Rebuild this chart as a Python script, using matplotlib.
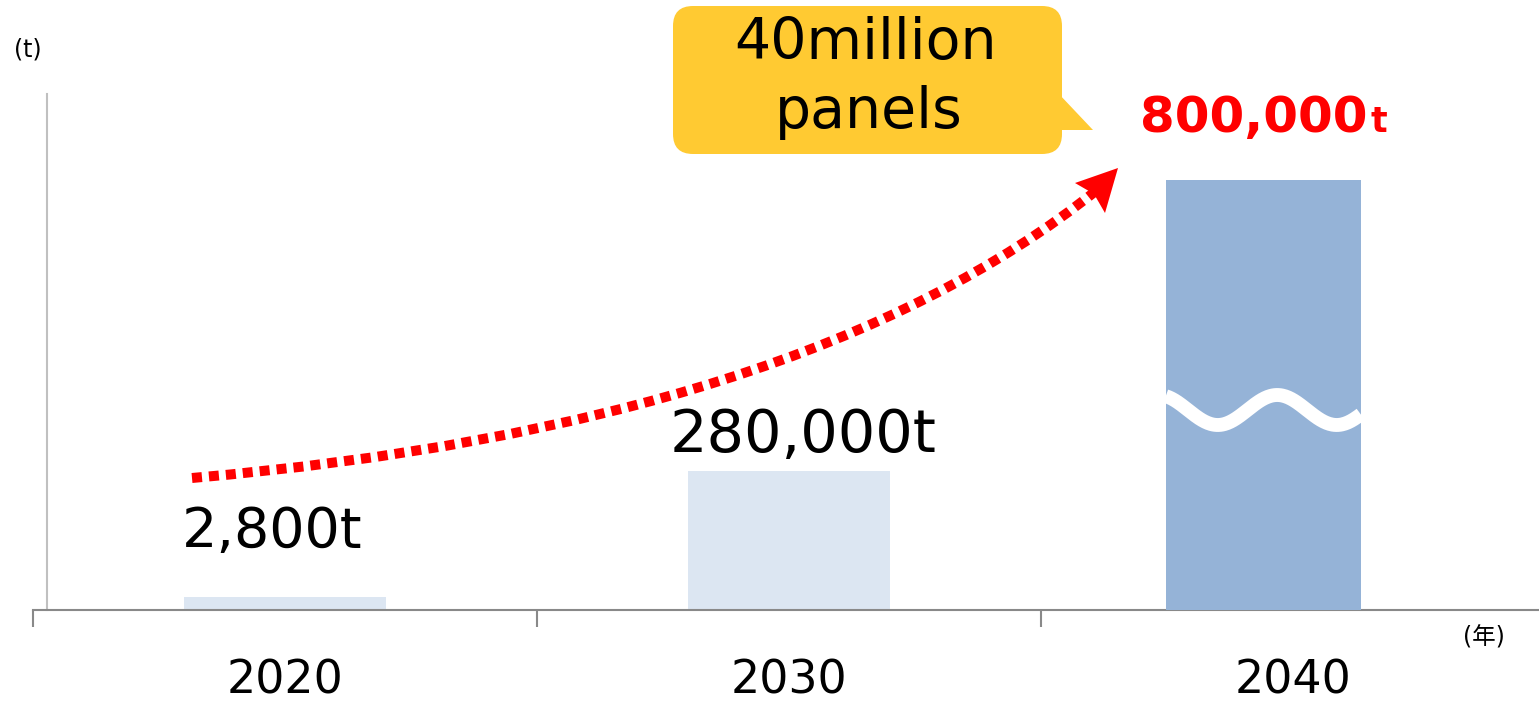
import numpy as np
import matplotlib.pyplot as plt
from matplotlib.patches import FancyBboxPatch, Polygon, PathPatch
from matplotlib.path import Path

plt.rcParams['font.family'] = ['DejaVu Sans', 'Noto Sans CJK JP']

years = ['2020', '2030', '2040']
tonnes = ['2,800t', '280,000t', '800,000']
# drawn heights of the bars; the chart is not to scale (2040 bar is broken)
bar_heights = [13, 139, 430]
callout = ['40million', 'panels']
unit_y = '(t)'
unit_x = '(年)'

W, H = 1539, 704
fig = plt.figure(figsize=(W / 100, H / 100), dpi=100)

# main axes: one category = 504 px, y unit = 1 px
ax = fig.add_axes([33 / W, 94 / H, 1512 / W, 516 / H])
ax.set_xlim(-0.5, 2.5)
ax.set_ylim(0, 516)

x = np.arange(len(years), dtype=float)
x[2] -= 0.059
widths = [0.4, 0.4, 0.387]
colors = ['#dce6f2', '#dce6f2', '#95b3d7']
bars = ax.bar(x, bar_heights, width=widths, color=colors, zorder=1)
bars[2].set_zorder(3)

# white wavy break mark on the 2040 bar
b = bars[2]
wx = np.linspace(b.get_x(), b.get_x() + b.get_width(), 200)
trough = b.get_x() + 52 / 504
wy = 200 - 15 * np.cos(2 * np.pi * (wx - trough) / 0.236)
wave, = ax.plot(wx, wy, color='white', lw=10, solid_capstyle='butt', zorder=4)
wave.set_clip_path(b)

for s in ['top', 'right']:
    ax.spines[s].set_visible(False)
ax.spines['bottom'].set_color('#898989')
ax.spines['bottom'].set_linewidth(1.5)
ax.spines['left'].set_position(('data', -0.472))
ax.spines['left'].set_color('#c0c0c0')
ax.spines['left'].set_linewidth(1.5)
ax.set_yticks([])
ax.set_xticks([-0.5, 0.5, 1.5, 2.5], labels=['', '', '', ''])
ax.tick_params(axis='x', length=12, width=1.5, color='#898989', direction='out')

# value labels
offsets = [(-13, 50), (14, 19)]
sizes = [40, 42.5]
for i in range(2):
    ax.annotate(tonnes[i], xy=(x[i], bar_heights[i]), xytext=offsets[i],
                textcoords='offset pixels', ha='center', va='baseline',
                fontsize=sizes[i], annotation_clip=False)
ax.annotate(tonnes[2], xy=(x[2], bar_heights[2]), xytext=(104, 48),
            textcoords='offset pixels', ha='right', va='baseline',
            fontsize=36, fontweight='bold', color='#ff0000', annotation_clip=False)
ax.annotate('t', xy=(x[2], bar_heights[2]), xytext=(107, 48),
            textcoords='offset pixels', ha='left', va='baseline',
            fontsize=25, fontweight='bold', color='#ff0000', annotation_clip=False)

# category labels
for i, yr in enumerate(years):
    ax.annotate(yr, xy=(i, 0), xytext=(0, -83), textcoords='offset pixels',
                ha='center', va='baseline', fontsize=33, annotation_clip=False)

# overlay in pixel coordinates for the callout and the arrow
ov = fig.add_axes([0, 0, 1, 1], zorder=5)
ov.set_xlim(0, W)
ov.set_ylim(H, 0)
ov.axis('off')

yellow = '#ffca32'
ov.add_patch(FancyBboxPatch((673, 6), 389, 148, boxstyle='round,pad=0,rounding_size=20',
                            fc=yellow, ec='none'))
ov.add_patch(Polygon([(1058, 93), (1093, 130), (1058, 130)], closed=True, fc=yellow, ec='none'))
ov.text(866, 59, callout[0], ha='center', va='baseline', fontsize=41)
ov.text(869, 128, callout[1], ha='center', va='baseline', fontsize=41)

curve = Path([(192, 478), (804, 425), (1097, 190)], [Path.MOVETO, Path.CURVE3, Path.CURVE3])
ov.add_patch(PathPatch(curve, fill=False, ec='#ff0000', lw=7.2,
                       linestyle=(0, (1, 0.7)), capstyle='butt'))
ov.add_patch(Polygon([(1118, 168), (1075, 183), (1094, 194), (1105, 213)],
                     closed=True, fc='#ff0000', ec='none'))

ov.text(14, 56, unit_y, ha='left', va='baseline', fontsize=17)
ov.text(1463, 644, unit_x, ha='left', va='baseline', fontsize=17)

fig.savefig('out.png', dpi=100)
